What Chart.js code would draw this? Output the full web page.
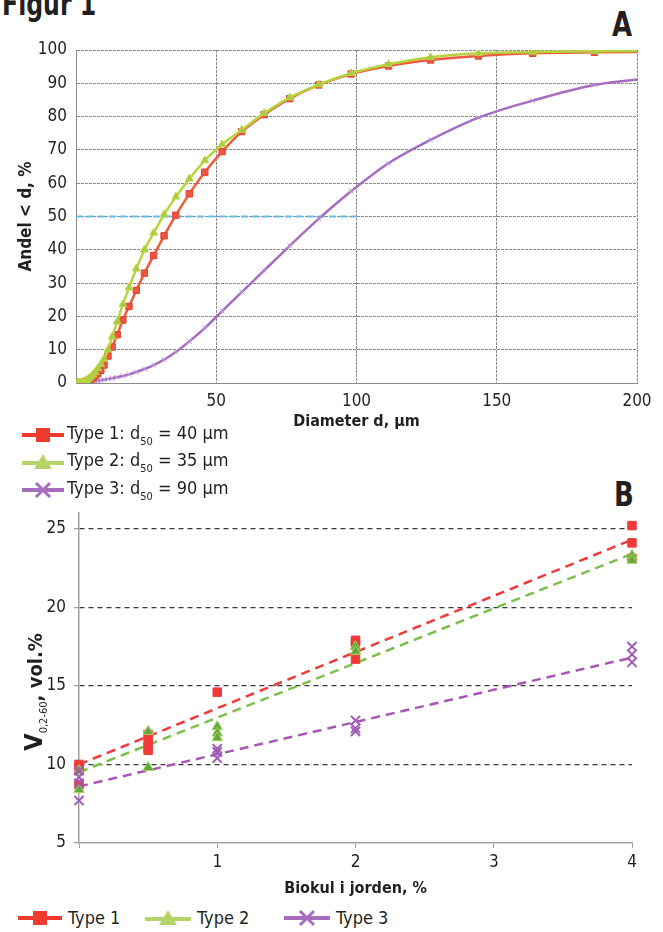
<!DOCTYPE html>
<html>
<head>
<meta charset="utf-8">
<script src="https://cdn.jsdelivr.net/npm/chart.js@4.4.1/dist/chart.umd.min.js"></script>
<style>
  body { margin: 0; width: 663px; height: 932px; background: #fff; position: relative; overflow: hidden;
         font-family: 'Liberation Sans Narrow', 'DejaVu Sans Condensed', sans-serif; color: #231f20; }
  .abs { position: absolute; white-space: nowrap; }
  #figur { left: 2px; top: -15px; font-size: 32px; font-weight: bold; transform: scaleX(0.82); transform-origin: left top; }
  .panel { font-size: 34px; font-weight: bold; transform: scaleX(0.85); transform-origin: left top; }
  #canvA { left: 0; top: 28px; }
  #canvB { left: 0; top: 491px; }
  .leg { font-size: 18px; display: flex; align-items: center; line-height: 24px; }
  .leg svg { margin-right: 3px; }
  .leg.b svg { margin-right: 6px; }
  .leg sub { font-size: 11px; position: relative; top: 6px; vertical-align: baseline; }
  #ytB { left: 33px; top: 692px; transform: translate(-50%, -50%) rotate(-90deg); font-size: 20px; font-weight: bold; }
  #ytB .big { font-size: 25px; }
  #ytB sub { font-size: 11px; font-weight: normal; position: relative; top: 5px; vertical-align: baseline; }
</style>
</head>
<body>
<div id="figur" class="abs">Figur 1</div>
<div class="abs panel" style="left:612px; top:4px;">A</div>
<div class="abs panel" style="left:614px; top:474px;">B</div>

<canvas id="canvA" class="abs" width="663" height="413"></canvas>
<canvas id="canvB" class="abs" width="663" height="409"></canvas>

<div class="abs leg" style="left:22px; top:421px;">
  <svg width="42" height="20"><line x1="0" y1="10" x2="42" y2="10" stroke="#ee3b2e" stroke-width="4"/><rect x="14" y="3" width="14" height="14" fill="#ee3b2e"/></svg>
  <span>Type 1: d<sub>50</sub> = 40 µm</span>
</div>
<div class="abs leg" style="left:22px; top:448px;">
  <svg width="42" height="20"><line x1="0" y1="11" x2="42" y2="11" stroke="#b5d56a" stroke-width="4"/><polygon points="21,2 30,17 12,17" fill="#b5d56a"/></svg>
  <span>Type 2: d<sub>50</sub> = 35 µm</span>
</div>
<div class="abs leg" style="left:22px; top:476px;">
  <svg width="42" height="20"><line x1="0" y1="10" x2="42" y2="10" stroke="#a56cc1" stroke-width="4"/><path d="M14 3 L28 17 M28 3 L14 17" stroke="#a56cc1" stroke-width="3"/></svg>
  <span>Type 3: d<sub>50</sub> = 90 µm</span>
</div>

<div id="ytB" class="abs"><span class="big">V</span><sub>0,2-60</sub>, vol.%</div>

<div class="abs leg b" style="left:18px; top:906px;">
  <svg width="44" height="20"><line x1="0" y1="10" x2="44" y2="10" stroke="#ee3b2e" stroke-width="4"/><rect x="15" y="3" width="14" height="14" fill="#ee3b2e"/></svg>
  <span>Type 1</span>
</div>
<div class="abs leg b" style="left:145px; top:906px;">
  <svg width="46" height="20"><line x1="0" y1="11" x2="46" y2="11" stroke="#b5d56a" stroke-width="4"/><polygon points="23,2 32,17 14,17" fill="#b5d56a"/></svg>
  <span>Type 2</span>
</div>
<div class="abs leg b" style="left:284px; top:906px;">
  <svg width="46" height="20"><line x1="0" y1="10" x2="46" y2="10" stroke="#a56cc1" stroke-width="4"/><path d="M16 3 L30 17 M30 3 L16 17" stroke="#a56cc1" stroke-width="3"/></svg>
  <span>Type 3</span>
</div>

<script>
const condensed = "'Liberation Sans Narrow', 'DejaVu Sans Condensed', sans-serif";
Chart.defaults.font.family = condensed;
Chart.defaults.color = '#231f20';

// Figur A: kornstorrelsesfordeling
const diameter = [0.62, 0.70, 0.80, 0.90, 1.02, 1.16, 1.32, 1.50, 1.70, 1.93,
  2.19, 2.49, 2.83, 3.21, 3.64, 4.13, 4.69, 5.33, 6.05, 6.86,
  7.79, 8.84, 10.0, 11.4, 12.9, 14.7, 16.7, 18.9, 21.5, 24.4,
  27.7, 31.4, 35.6, 40.4, 45.9, 52.1, 59.1, 67.1, 76.2, 86.5,
  98.1, 111.4, 126.4, 143.5, 162.8, 184.8, 209.8];
const type1Pct = [0, 0, 0, 0, 0, 0.01, 0.02, 0.03, 0.05, 0.08,
  0.12, 0.18, 0.25, 0.35, 0.5, 0.7, 0.9, 1.2, 1.6, 2.2,
  2.9, 3.8, 5.4, 8.1, 10.8, 14.5, 18.9, 23.0, 27.8, 33.0,
  38.3, 44.2, 50.4, 56.8, 63.3, 69.5, 75.5, 80.6, 85.4, 89.5,
  92.8, 95.2, 97.0, 98.2, 99.0, 99.3, 99.5];
const type2Pct = [0, 0, 0, 0, 0.01, 0.02, 0.03, 0.05, 0.07, 0.1,
  0.16, 0.24, 0.35, 0.5, 0.7, 1.0, 1.4, 1.9, 2.5, 3.3,
  4.4, 5.6, 7.2, 10.0, 13.9, 18.4, 23.6, 28.6, 34.3, 40.0,
  45.1, 50.6, 55.9, 61.3, 66.8, 71.6, 76.0, 81.0, 85.7, 89.6,
  93.0, 95.7, 97.8, 99.0, 99.4, 99.6, 99.7];
const type3Pct = [0, 0, 0.01, 0.01, 0.02, 0.03, 0.04, 0.05, 0.06, 0.08,
  0.1, 0.12, 0.15, 0.18, 0.22, 0.27, 0.33, 0.4, 0.48, 0.58,
  0.7, 0.85, 1.0, 1.2, 1.45, 1.75, 2.1, 2.6, 3.3, 4.2,
  5.4, 7.0, 9.3, 12.5, 16.5, 21.6, 27.3, 33.8, 41.2, 49.3,
  57.6, 66.0, 73.0, 79.7, 84.8, 89.5, 92.0];
const halfX = [0, 100];
const halfY = [50, 50];

// Figur B: vandindhold mod biokul
const b1x = [0, 0, 0, 0.5, 0.5, 0.5, 0.5, 1, 2, 2, 2, 4, 4, 4];
const b1y = [10.0, 9.8, 8.7, 11.9, 11.5, 11.1, 10.9, 14.6, 17.9, 17.7, 16.7, 25.2, 24.1, 23.1];
const b2x = [0, 0, 0.5, 0.5, 1, 1, 1, 2, 2, 4, 4];
const b2y = [9.6, 8.4, 12.1, 9.8, 12.4, 12.0, 11.7, 17.5, 17.2, 23.3, 23.0];
const b3x = [0, 0, 0, 0, 1, 1, 1, 2, 2, 2, 4, 4, 4];
const b3y = [9.6, 9.2, 8.8, 7.7, 11.0, 10.8, 10.4, 12.8, 12.3, 12.1, 17.5, 17.0, 16.5];
const trendX = [0, 4];
const trend1 = [10.0, 24.3];
const trend2 = [9.5, 23.4];
const trend3 = [8.6, 16.8];
const yTicksB = [5, 10, 15, 20, 25];

function pts(xs, ys) {
  return xs.map((x, i) => ({ x: x, y: ys[i] }));
}

// ---- A ----
const gridGrey = '#8a8a8a';
new Chart(document.getElementById('canvA').getContext('2d'), {
  type: 'line',
  data: {
    datasets: [
      {
        data: pts(diameter, type1Pct), order: 1,
        borderColor: '#f05a3c', borderWidth: 2.5, cubicInterpolationMode: 'monotone',
        pointStyle: 'rect', pointRadius: 4.5, pointBackgroundColor: '#ee5642', pointBorderColor: '#e4412f', pointBorderWidth: 1
      },
      {
        data: pts(diameter, type2Pct), order: 0,
        borderColor: '#b8d43c', borderWidth: 2.5, cubicInterpolationMode: 'monotone',
        pointStyle: 'triangle', pointRadius: 4.5, pointBackgroundColor: '#aacb4a', pointBorderColor: '#b8d43c', pointBorderWidth: 1
      },
      {
        data: pts(diameter, type3Pct), order: 2,
        borderColor: '#a56cc1', borderWidth: 2.5, cubicInterpolationMode: 'monotone',
        pointStyle: 'crossRot', pointRadius: 3.5, pointBorderColor: '#b99bd6', pointBorderWidth: 1
      },
      {
        data: pts(halfX, halfY), order: 3,
        borderColor: '#64bde8', borderWidth: 2, borderDash: [7, 4], pointRadius: 0
      }
    ]
  },
  options: {
    responsive: false,
    animation: false,
    layout: { padding: { top: 22, right: 26, left: 0, bottom: 0 } },
    plugins: { legend: { display: false }, tooltip: { enabled: false } },
    scales: {
      x: {
        type: 'linear', min: 0, max: 200,
        ticks: { stepSize: 50, padding: 8, font: { size: 17 }, maxRotation: 0,
                 callback: v => (v === 0 ? '' : v) },
        grid: { color: gridGrey, lineWidth: 1, drawTicks: false },
        border: { color: gridGrey, dash: [3, 1] },
        title: { display: true, text: 'Diameter d, µm', font: { size: 16, weight: 'bold' },
                 padding: { top: 0, bottom: 10 } },
        afterFit: s => { s.height = 58; }
      },
      y: {
        min: 0, max: 100,
        ticks: { stepSize: 10, padding: 9, font: { size: 17 } },
        grid: { color: gridGrey, lineWidth: 1, drawTicks: false },
        border: { color: gridGrey, dash: [3, 1] },
        title: { display: true, text: 'Andel < d, %', font: { size: 17, weight: 'bold' },
                 padding: { top: 16, bottom: 0 } },
        afterFit: s => { s.width = 76; }
      }
    }
  }
});

// ---- B ----
new Chart(document.getElementById('canvB').getContext('2d'), {
  type: 'scatter',
  data: {
    datasets: [
      {
        type: 'line', data: pts(trendX, trend1), order: 3,
        borderColor: '#f03a3a', borderWidth: 2.5, borderDash: [9, 6], pointRadius: 0
      },
      {
        type: 'line', data: pts(trendX, trend2), order: 4,
        borderColor: '#7cbf4b', borderWidth: 2.5, borderDash: [9, 6], pointRadius: 0
      },
      {
        type: 'line', data: pts(trendX, trend3), order: 5,
        borderColor: '#a855b5', borderWidth: 2.5, borderDash: [9, 6], pointRadius: 0
      },
      {
        data: pts(b1x, b1y), order: 2, clip: false,
        pointStyle: 'rect', pointRadius: 6, pointBackgroundColor: '#f03a3a', pointBorderColor: '#f03a3a'
      },
      {
        data: pts(b2x, b2y), order: 1, clip: false,
        pointStyle: 'triangle', pointRadius: 6, pointBackgroundColor: '#62a83e', pointBorderColor: '#a8d060', pointBorderWidth: 1
      },
      {
        data: pts(b3x, b3y), order: 0, clip: false,
        pointStyle: 'crossRot', pointRadius: 6.5, pointBorderColor: '#a05bb5', pointBorderWidth: 2
      }
    ]
  },
  options: {
    responsive: false,
    animation: false,
    layout: { padding: { top: 22, right: 31, left: 0, bottom: 0 } },
    plugins: { legend: { display: false }, tooltip: { enabled: false } },
    scales: {
      x: {
        type: 'linear', min: 0, max: 4,
        ticks: { stepSize: 1, padding: 4, font: { size: 17 }, maxRotation: 0,
                 callback: v => (v === 0 ? '' : v) },
        grid: { drawOnChartArea: false, drawTicks: true, tickLength: 5, tickColor: '#a0a0a0' },
        border: { color: '#a0a0a0', width: 1.5 },
        title: { display: true, text: 'Biokul i jorden, %', font: { size: 16, weight: 'bold' },
                 padding: { top: 0, bottom: 2 } },
        afterFit: s => { s.height = 57; }
      },
      y: {
        min: 5, max: 26,
        afterBuildTicks: s => { s.ticks = yTicksB.map(v => ({ value: v })); },
        ticks: { padding: 8, font: { size: 17 } },
        grid: {
          color: ctx => (ctx.tick && ctx.tick.value === 5 ? 'rgba(0,0,0,0)' : '#3a3a3a'),
          lineWidth: 1.3, drawTicks: true, tickLength: 5, tickColor: '#a0a0a0'
        },
        border: { color: '#a0a0a0', width: 1.5, dash: [5, 4] },
        afterFit: s => { s.width = 79; }
      }
    }
  }
});
</script>
</body>
</html>
